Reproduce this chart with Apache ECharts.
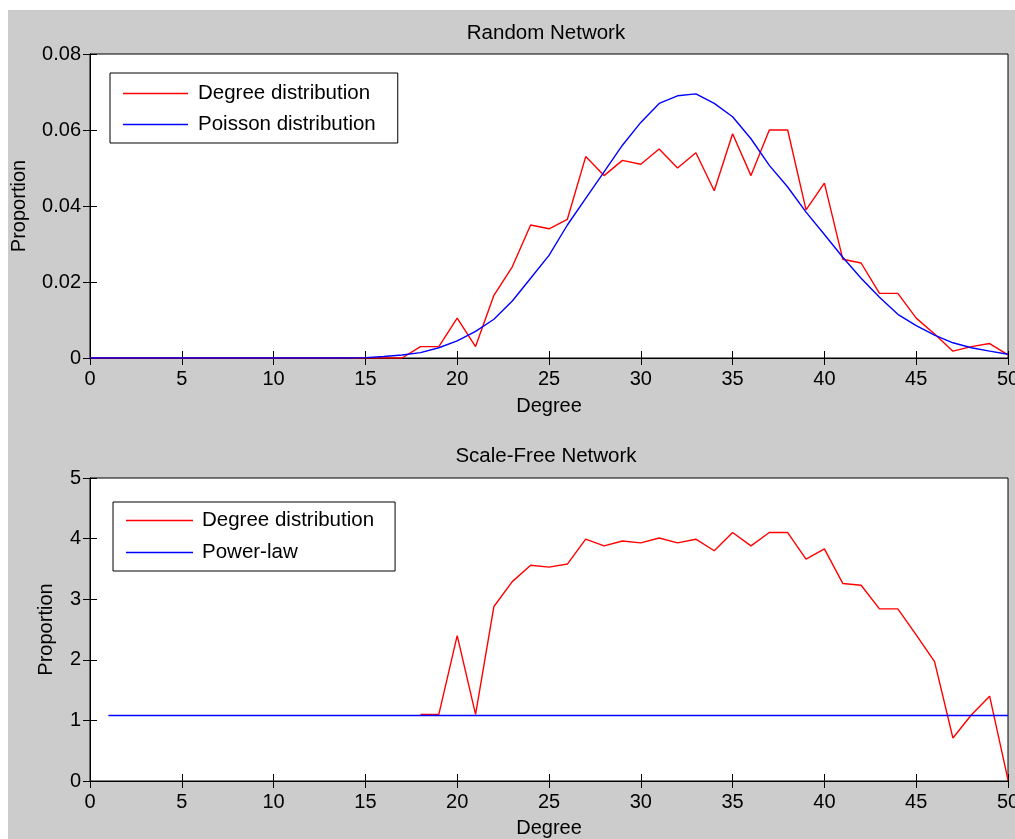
<!DOCTYPE html>
<html>
<head>
<meta charset="utf-8">
<script src="https://cdn.jsdelivr.net/npm/echarts@6/dist/echarts.min.js"></script>
<style>
html,body{margin:0;padding:0;background:#fff;overflow:hidden;}
#bg{position:absolute;left:8px;top:10px;width:1007px;height:829px;background:#cccccc;}
#chart{position:absolute;left:0;top:0;width:1015px;height:839px;}
</style>
</head>
<body>
<div id="bg"></div>
<div id="chart"></div>
<script>
// ---- Data ----
const degreesTop = [0,1,2,3,4,5,6,7,8,9,10,11,12,13,14,15,16,17,18,19,20,21,22,23,24,25,26,27,28,29,30,31,32,33,34,35,36,37,38,39,40,41,42,43,44,45,46,47,48,49,50];
const randomDegreeDist = [0,0,0,0,0,0,0,0,0,0,0,0,0,0,0,0,0,0,0.003,0.003,0.0105,0.003,0.0165,0.024,0.035,0.034,0.0365,0.053,0.048,0.052,0.051,0.055,0.050,0.054,0.044,0.059,0.048,0.060,0.060,0.039,0.046,0.026,0.025,0.017,0.017,0.0105,0.0063,0.0018,0.003,0.0038,0.0008];
const poissonDist = [0,0,0,0,0,0,0,0,0,0,0,0,0,0,0,0.0001,0.0004,0.0008,0.0014,0.0027,0.0045,0.007,0.0102,0.015,0.021,0.027,0.035,0.042,0.049,0.056,0.062,0.067,0.069,0.0695,0.067,0.0635,0.0577,0.0507,0.045,0.0384,0.0325,0.0265,0.021,0.016,0.0115,0.0085,0.006,0.004,0.0027,0.0018,0.001];

const degreesSFRed = [18,19,20,21,22,23,24,25,26,27,28,29,30,31,32,33,34,35,36,37,38,39,40,41,42,43,44,45,46,47,48,49,50];
const scaleFreeDegreeDist = [1.1,1.1,2.4,1.1,2.88,3.29,3.56,3.53,3.58,3.99,3.88,3.96,3.93,4.01,3.93,3.99,3.80,4.10,3.88,4.10,4.10,3.66,3.83,3.26,3.23,2.84,2.84,2.41,1.97,0.71,1.09,1.40,0.02];
const degreesSFBlue = [1,2,3,4,5,6,7,8,9,10,11,12,13,14,15,16,17,18,19,20,21,22,23,24,25,26,27,28,29,30,31,32,33,34,35,36,37,38,39,40,41,42,43,44,45,46,47,48,49,50];
const powerLaw = [1.08,1.08,1.08,1.08,1.08,1.08,1.08,1.08,1.08,1.08,1.08,1.08,1.08,1.08,1.08,1.08,1.08,1.08,1.08,1.08,1.08,1.08,1.08,1.08,1.08,1.08,1.08,1.08,1.08,1.08,1.08,1.08,1.08,1.08,1.08,1.08,1.08,1.08,1.08,1.08,1.08,1.08,1.08,1.08,1.08,1.08,1.08,1.08,1.08,1.08];

const titles = ['Random Network', 'Scale-Free Network'];
const xName = 'Degree';
const yName = 'Proportion';

// ---- Chart ----
const FONT = 'Liberation Sans';
const pair = (xs, ys) => xs.map((x, i) => [x, ys[i]]);

const chart = echarts.init(document.getElementById('chart'), null, {renderer: 'canvas'});

function xAxes(gi, gap) {
  return [
    {type:'value', gridIndex:gi, position:'bottom', min:0, max:50, interval:5,
     name:xName, nameLocation:'middle', nameGap:gap,
     nameTextStyle:{color:'#000', fontFamily:FONT, fontSize:20},
     axisLine:{show:true, lineStyle:{color:'#000', width:1}},
     axisTick:{show:true, inside:true, length:7, lineStyle:{color:'#000'}},
     axisLabel:{color:'#000', fontFamily:FONT, fontSize:20, margin:11, hideOverlap:false},
     splitLine:{show:false}},
    {type:'value', gridIndex:gi, position:'top', min:0, max:50, interval:5,
     axisLine:{show:true, lineStyle:{color:'#000', width:1}},
     axisTick:{show:true, inside:true, length:7, lineStyle:{color:'#000'}},
     axisLabel:{show:false}, splitLine:{show:false}}
  ];
}
function yAxes(gi, max, interval, gap) {
  return [
    {type:'value', gridIndex:gi, position:'left', min:0, max:max, interval:interval,
     name:yName, nameLocation:'middle', nameGap:gap,
     nameTextStyle:{color:'#000', fontFamily:FONT, fontSize:20},
     axisLine:{show:true, lineStyle:{color:'#000', width:1}},
     axisTick:{show:true, inside:true, length:7, lineStyle:{color:'#000'}},
     axisLabel:{color:'#000', fontFamily:FONT, fontSize:20, margin:9},
     splitLine:{show:false}},
    {type:'value', gridIndex:gi, position:'right', min:0, max:max, interval:interval,
     axisLine:{show:true, lineStyle:{color:'#000', width:1}},
     axisTick:{show:true, inside:true, length:7, lineStyle:{color:'#000'}},
     axisLabel:{show:false}, splitLine:{show:false}}
  ];
}

const option = {
  animation: false,
  textStyle: {fontFamily: FONT},
  title: [
    {text: titles[0], left: 541, top: 18, textAlign: 'center',
     textStyle:{fontFamily:FONT, fontSize:20.5, fontWeight:'normal', color:'#000'}},
    {text: titles[1], left: 541, top: 441, textAlign: 'center',
     textStyle:{fontFamily:FONT, fontSize:20.5, fontWeight:'normal', color:'#000'}}
  ],
  grid: [
    {left: 90, top: 54, width: 918, height: 304, outerBoundsMode:'none', containLabel:false,
     show: true, backgroundColor:'#fff', borderColor:'#000', borderWidth:1},
    {left: 90, top: 478, width: 918, height: 303, outerBoundsMode:'none', containLabel:false,
     show: true, backgroundColor:'#fff', borderColor:'#000', borderWidth:1}
  ],
  xAxis: [...xAxes(0, 38), ...xAxes(1, 37)],
  yAxis: [...yAxes(0, 0.08, 0.02, 61), ...yAxes(1, 5, 1, 34)],
  legend: [
    {data:['Degree distribution','Poisson distribution'], orient:'vertical', left:110, top:73,
     icon:'rect', itemWidth:65, itemHeight:1.5, itemGap:10,
     padding:[10, 22, 8, 13], backgroundColor:'#fff', borderColor:'#000', borderWidth:1, borderRadius:0,
     textStyle:{color:'#000', fontFamily:FONT, fontSize:20.5, lineHeight:20, padding:[0,0,0,5]}},
    {data:['Degree distribution ','Power-law'], orient:'vertical', left:113, top:502,
     icon:'rect', itemWidth:67, itemHeight:1.5, itemGap:11,
     padding:[8, 21, 8, 13], backgroundColor:'#fff', borderColor:'#000', borderWidth:1, borderRadius:0,
     formatter: n => n.trim(),
     textStyle:{color:'#000', fontFamily:FONT, fontSize:20.5, lineHeight:20, padding:[0,0,0,4]}}
  ],
  series: [
    {name:'Degree distribution', type:'line', xAxisIndex:0, yAxisIndex:0, data:pair(degreesTop, randomDegreeDist),
     symbol:'none', color:'#ff0000', lineStyle:{color:'#ff0000', width:1.4}, z:3},
    {name:'Poisson distribution', type:'line', xAxisIndex:0, yAxisIndex:0, data:pair(degreesTop, poissonDist),
     symbol:'none', color:'#0000ff', lineStyle:{color:'#0000ff', width:1.4}, z:4},
    {name:'Degree distribution ', type:'line', xAxisIndex:2, yAxisIndex:2, data:pair(degreesSFRed, scaleFreeDegreeDist),
     symbol:'none', color:'#ff0000', lineStyle:{color:'#ff0000', width:1.4}, z:3},
    {name:'Power-law', type:'line', xAxisIndex:2, yAxisIndex:2, data:pair(degreesSFBlue, powerLaw),
     symbol:'none', color:'#0000ff', lineStyle:{color:'#0000ff', width:1.6}, z:4}
  ]
};
chart.setOption(option);
</script>
</body>
</html>
